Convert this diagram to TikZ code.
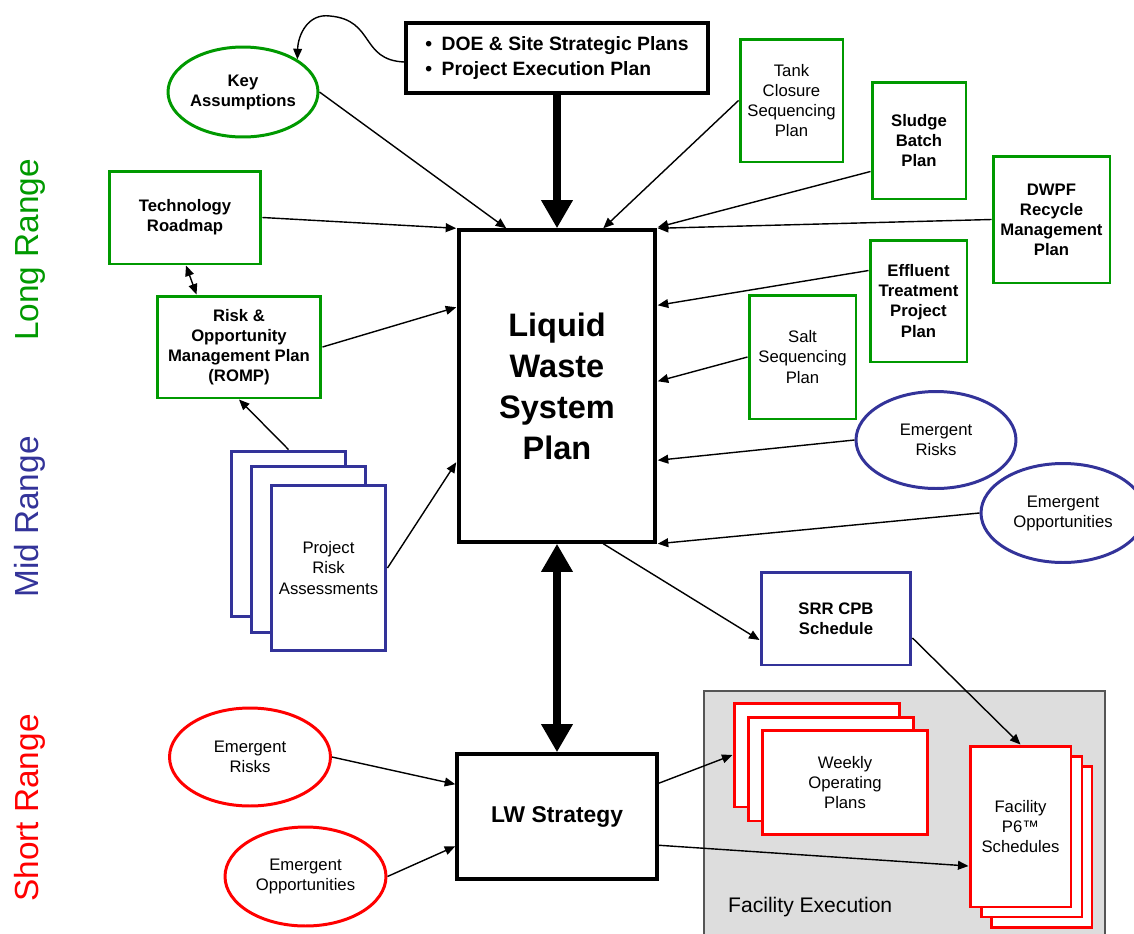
\documentclass[tikz,border=0pt]{standalone}
\usepackage{fontspec}
\setmainfont{Liberation Sans}
\usetikzlibrary{arrows.meta,calc,shapes.geometric,positioning}
\definecolor{ink}{HTML}{000000}
\definecolor{lrgreen}{HTML}{009900}
\definecolor{mrblue}{HTML}{333399}
\definecolor{srred}{HTML}{FF0000}
\definecolor{execgray}{HTML}{DDDDDD}
\definecolor{execline}{HTML}{555555}

\begin{document}
\begin{tikzpicture}[x=0.02cm,y=-0.02cm,
  txt/.style={font=\fontsize{9.5}{11.4}\selectfont,align=center,inner sep=2pt},
  plan/.style={txt,draw,fill=white,line width=1.7pt,rectangle},
  oval/.style={txt,draw,fill=white,line width=1.7pt,ellipse,inner sep=0pt},
  rangelabel/.style={rotate=90,font=\fontsize{19}{22}\selectfont},
  flow/.style={line width=0.8pt,-{Triangle[length=6pt,width=5pt]}},
  fat/.style={line width=4.5pt,-{Triangle[length=16pt,width=17pt]}},
  fatboth/.style={line width=4.5pt,{Triangle[length=16pt,width=17pt]}-{Triangle[length=16pt,width=17pt]}}]
  \useasboundingbox (0,0) rectangle (1134,934);

  \node[rangelabel,text=lrgreen] (lrlabel) at (30,250) {Long Range};
  \node[rangelabel,text=mrblue] (mrlabel) at (30,517) {Mid Range};
  \node[rangelabel,text=srred] (srlabel) at (30,808) {Short Range};

  \draw[fill=execgray,draw=execline,line width=0.8pt] (704,691) rectangle (1105,945);
  \node[anchor=west,font=\fontsize{12}{14}\selectfont] (fexlabel) at (722,907) {Facility Execution};

  \node[plan,draw=ink,line width=2pt,minimum width=6.04cm,minimum height=1.4cm,align=left,
    font=\fontsize{11}{13.7}\selectfont\bfseries] (doe) at (557,58)
    {\textbullet\enspace DOE \& Site Strategic Plans\\\textbullet\enspace Project Execution Plan};
  \node[plan,draw=ink,line width=2pt,minimum width=3.92cm,minimum height=6.24cm,
    font=\fontsize{18.5}{23.3}\selectfont\bfseries] (lwsp) at (557,386) {Liquid\\Waste\\System\\Plan};
  \node[plan,draw=ink,line width=2pt,minimum width=4cm,minimum height=2.5cm,
    font=\fontsize{13}{16}\selectfont\bfseries] (lws) at (557,816.5) {LW Strategy};

  \node[oval,draw=lrgreen,minimum width=3cm,minimum height=1.8cm,font=\fontsize{9.5}{11.4}\selectfont\bfseries] (ka) at (243,92) {Key\\Assumptions};
  \node[plan,draw=lrgreen,minimum width=2.06cm,minimum height=2.46cm] (tank) at (791.5,100.5) {Tank\\Closure\\Sequencing\\Plan};
  \node[plan,draw=lrgreen,minimum width=1.88cm,minimum height=2.34cm,font=\fontsize{9.5}{11.4}\selectfont\bfseries] (sludge) at (919,140.5) {Sludge\\Batch\\Plan};
  \node[plan,draw=lrgreen,minimum width=2.34cm,minimum height=2.54cm,font=\fontsize{9.5}{11.4}\selectfont\bfseries] (dwpf) at (1051.5,219.5) {DWPF\\Recycle\\Management\\Plan};
  \node[plan,draw=lrgreen,minimum width=1.94cm,minimum height=2.44cm,font=\fontsize{9.5}{11.4}\selectfont\bfseries] (effl) at (918.5,301) {Effluent\\Treatment\\Project\\Plan};
  \node[plan,draw=lrgreen,minimum width=2.14cm,minimum height=2.48cm] (salt) at (802.5,357) {Salt\\Sequencing\\Plan};
  \node[plan,draw=lrgreen,minimum width=3.04cm,minimum height=1.86cm,font=\fontsize{9.5}{11.4}\selectfont\bfseries] (tech) at (185,217.5) {Technology\\Roadmap};
  \node[plan,draw=lrgreen,minimum width=3.28cm,minimum height=2.04cm,font=\fontsize{9.5}{11.4}\selectfont\bfseries] (romp) at (239,347) {Risk \&\\Opportunity\\Management Plan\\(ROMP)};

  \node[oval,draw=mrblue,minimum width=3.2cm,minimum height=1.94cm] (erb) at (936,440) {Emergent\\Risks};
  \node[oval,draw=mrblue,minimum width=3.28cm,minimum height=1.98cm] (eob) at (1063,513) {Emergent\\Opportunities};
  \node[plan,draw=mrblue,minimum width=3cm,minimum height=1.86cm,font=\fontsize{9.5}{11.4}\selectfont\bfseries] (srr) at (836,618.5) {SRR CPB\\Schedule};
  \node[plan,draw=mrblue,minimum width=2.3cm,minimum height=3.32cm] (pra3) at (288.5,534) {};
  \node[plan,draw=mrblue,minimum width=2.3cm,minimum height=3.32cm] (pra2) at (308.5,549.5) {};
  \node[plan,draw=mrblue,minimum width=2.3cm,minimum height=3.32cm] (pra1) at (328.5,568) {Project\\Risk\\Assessments};

  \node[oval,draw=srred,minimum width=3.22cm,minimum height=1.96cm] (err) at (250,757) {Emergent\\Risks};
  \node[oval,draw=srred,minimum width=3.22cm,minimum height=1.98cm] (eor) at (305.5,876.5) {Emergent\\Opportunities};
  \node[plan,draw=srred,minimum width=3.32cm,minimum height=2.08cm] (wop3) at (817,755) {};
  \node[plan,draw=srred,minimum width=3.32cm,minimum height=2.08cm] (wop2) at (831,769) {};
  \node[plan,draw=srred,minimum width=3.32cm,minimum height=2.08cm] (wop1) at (845,782.5) {Weekly\\Operating\\Plans};
  \node[plan,draw=srred,minimum width=2.02cm,minimum height=3.22cm] (fp3) at (1041.5,847) {};
  \node[plan,draw=srred,minimum width=2.02cm,minimum height=3.22cm] (fp2) at (1031.5,836.5) {};
  \node[plan,draw=srred,minimum width=2.02cm,minimum height=3.22cm] (fp1) at (1020.5,826.5) {Facility\\P6™\\Schedules};

  \draw[fat] (doe.south) -- (lwsp.north);
  \draw[fatboth] (lwsp.south) -- (lws.north);

  \draw[flow] ($(doe.west)+(0,4)$) .. controls (360,60) and (375,20) .. (330,16)
    .. controls (308,13) and (298,35) .. (ka.31);
  \draw[flow] (ka.east) -- ($(lwsp.north west)+(49,0)$);
  \draw[flow] (tank.west) -- ($(lwsp.north west)+(146,0)$);
  \draw[flow] ($(sludge.south west)+(0,-29)$) -- ($(lwsp.north east)+(1,-1)$);
  \draw[flow] (dwpf.west) -- ($(lwsp.north east)+(1,0)$);
  \draw[flow] (tech.east) -- ($(lwsp.north west)+(-1,0)$);
  \draw[{Triangle[length=6pt,width=5pt]}-{Triangle[length=6pt,width=5pt]},line width=0.8pt]
    ($(tech.south)+(1,0)$) -- ($(romp.north west)+(41,0)$);
  \draw[flow] (romp.east) -- ($(lwsp.north west)+(-1,79)$);
  \draw[flow] (pra3.north) -- (romp.south);
  \draw[flow] (pra1.east) -- ($(lwsp.north west)+(-1,234)$);
  \draw[flow] ($(effl.north west)+(0,32)$) -- ($(lwsp.north east)+(1,77)$);
  \draw[flow] (salt.west) -- ($(lwsp.north east)+(1,153)$);
  \draw[flow] (erb.west) -- ($(lwsp.north east)+(1,232)$);
  \draw[flow] (eob.west) -- ($(lwsp.south east)+(1,0)$);
  \draw[flow] ($(lwsp.south west)+(146,0)$) -- ($(srr.west)+(0,21.5)$);
  \draw[flow] ($(srr.east)+(0,19.5)$) -- (fp1.north);
  \draw[flow] ($(lws.north east)+(0,31)$) -- (wop3.west);
  \draw[flow] ($(lws.north east)+(0,93)$) -- ($(fp1.west)+(0,39.5)$);
  \draw[flow] (err.east) -- ($(lws.north west)+(0,32)$);
  \draw[flow] (eor.east) -- ($(lws.north west)+(0,94)$);
\end{tikzpicture}
\end{document}
